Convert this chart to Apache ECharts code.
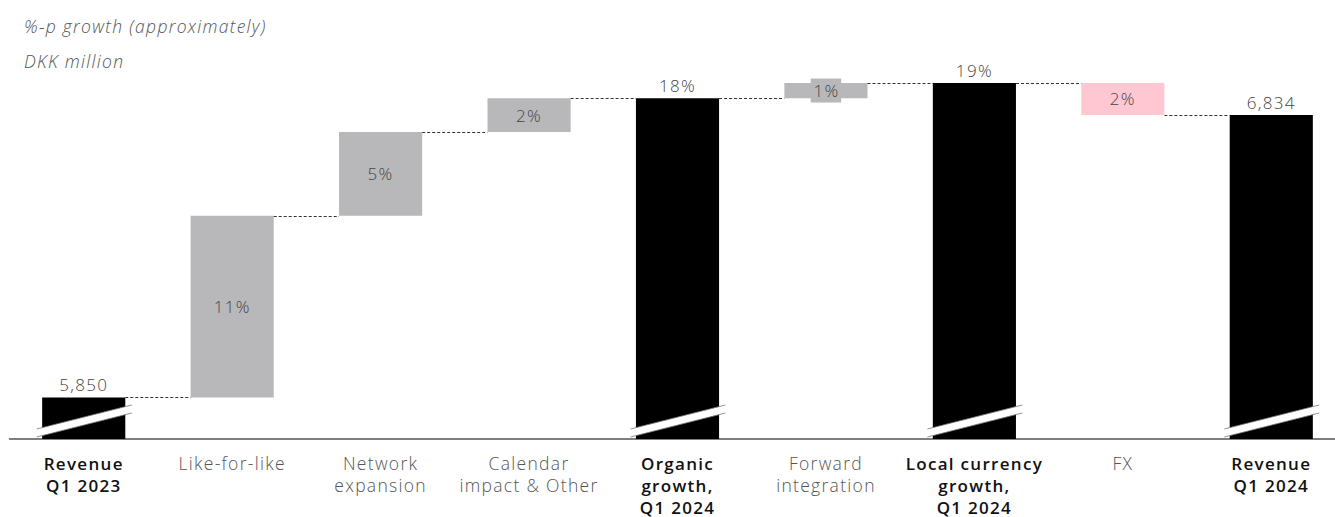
<!DOCTYPE html>
<html>
<head>
<meta charset="utf-8">
<script src="https://cdn.jsdelivr.net/npm/echarts@6/dist/echarts.min.js"></script>
<style>
html,body{margin:0;padding:0;background:#fff;}
#chart{width:1335px;height:517px;}
#chart text{letter-spacing:1.3px;}
</style>
</head>
<body>
<div id="chart"></div>
<script>
// ---- data ----
const categories = ['Revenue\nQ1 2023', 'Like-for-like', 'Network\nexpansion', 'Calendar\nimpact & Other', 'Organic\ngrowth,\nQ1 2024', 'Forward\nintegration', 'Local currency\ngrowth,\nQ1 2024', 'FX', 'Revenue\nQ1 2024'];
const barKinds = ['total', 'delta', 'delta', 'delta', 'total', 'delta', 'total', 'delta', 'total'];
const startRevenue = 5850;          // DKK million
const changes = [null, 633, 292, 118, null, 53, null, -112, null]; // DKK million (approx.)
const barLabels = ['5,850', '11%', '5%', '2%', '18%', '1%', '19%', '2%', '6,834'];
const titleLines = ['%-p growth (approximately)', 'DKK million'];

// ---- derived ----
const levels = [];
let run = startRevenue;
barKinds.forEach((k, i) => {
  if (k === 'delta') run += changes[i];
  levels.push(run);
});
const totalData = barKinds.map((k, i) => k === 'total' ? levels[i] : '-');
const baseData = barKinds.map((k, i) => k === 'delta' ? (changes[i] >= 0 ? levels[i] - changes[i] : levels[i]) : '-');
const deltaData = barKinds.map((k, i) => {
  if (k !== 'delta') return '-';
  const v = changes[i];
  const item = { value: Math.abs(v), itemStyle: { color: v >= 0 ? '#b8b8ba' : '#ffc7d1' } };
  if (i === 5) {
    item.label = { backgroundColor: '#b8b8ba', padding: [4, 3, 3, 4] };
  }
  return item;
});
const connectorData = levels.slice(0, levels.length - 1).map((lv, i) => [i, lv]);
const breakData = barKinds.map((k, i) => k === 'total' ? [i] : null).filter(d => d);

const Y_MIN = 5705, Y_MAX = 7005;
const BAR_RATIO = 0.56;
const FONT = '"Open Sans", Lato, sans-serif';

const chart = echarts.init(document.getElementById('chart'), null, { renderer: 'svg' });
chart.setOption({
  animation: false,
  grid: { left: 9.5, width: 1336, top: 66, bottom: 78, outerBoundsMode: 'none', containLabel: false },
  graphic: [
    { type: 'text', left: 24, top: 17, style: { text: titleLines[0], fontFamily: FONT, fontStyle: 'italic', fontWeight: 300, fontSize: 17.5, fill: '#555' } },
    { type: 'text', left: 24, top: 52, style: { text: titleLines[1], fontFamily: FONT, fontStyle: 'italic', fontWeight: 300, fontSize: 17.5, fill: '#555' } }
  ],
  xAxis: {
    type: 'category',
    data: categories,
    axisLine: { lineStyle: { color: '#555', width: 1.5 } },
    axisTick: { show: false },
    axisLabel: {
      interval: 0,
      margin: 13,
      formatter: function (val, idx) {
        const tag = barKinds[idx] === 'total' ? 'b' : 'n';
        return val.split('\n').map(s => '{' + tag + '|' + s + '}').join('\n');
      },
      rich: {
        b: { fontFamily: FONT, fontSize: 17, fontWeight: 600, color: '#111', lineHeight: 22 },
        n: { fontFamily: FONT, fontSize: 17.5, fontWeight: 300, color: '#555', lineHeight: 22 }
      }
    }
  },
  yAxis: { type: 'value', min: Y_MIN, max: Y_MAX, show: false, splitLine: { show: false } },
  series: [
    {
      name: 'total', type: 'bar', data: totalData, barWidth: (BAR_RATIO * 100) + '%', barGap: '-100%',
      itemStyle: { color: '#000' },
      label: {
        show: true, position: 'top', distance: 4, fontFamily: FONT, fontWeight: 300, fontSize: 17, color: '#444',
        formatter: p => barLabels[p.dataIndex]
      }
    },
    {
      name: 'base', type: 'bar', stack: 'wf', data: baseData, barWidth: (BAR_RATIO * 100) + '%', barGap: '-100%',
      itemStyle: { color: 'rgba(0,0,0,0)' }, silent: true
    },
    {
      name: 'delta', type: 'bar', stack: 'wf', data: deltaData, barWidth: (BAR_RATIO * 100) + '%', barGap: '-100%',
      label: {
        show: true, position: 'inside', fontFamily: FONT, fontWeight: 300, fontSize: 17, color: '#444',
        formatter: p => barLabels[p.dataIndex]
      }
    },
    {
      name: 'connectors', type: 'custom', data: connectorData, z: 3, silent: true,
      renderItem: function (params, api) {
        const i = api.value(0), lv = api.value(1);
        const p0 = api.coord([i, lv]);
        const p1 = api.coord([i + 1, lv]);
        const half = api.size([1, 0])[0] * BAR_RATIO / 2;
        const y = Math.round(p0[1]) + 0.5;
        return {
          type: 'line',
          shape: { x1: p0[0] + half, y1: y, x2: p1[0] - half, y2: y },
          style: { stroke: '#333', lineWidth: 1, lineDash: [3, 2] }
        };
      }
    },
    {
      name: 'breaks', type: 'custom', data: breakData, z: 4, silent: true,
      encode: { x: 0 },
      renderItem: function (params, api) {
        const i = api.value(0);
        const p = api.coord([i, Y_MIN]);
        const x = p[0], y = p[1];
        const L = [x - 47, y - 2], R = [x + 48, y - 26];
        const T = 8;
        return {
          type: 'group',
          children: [
            { type: 'polygon', shape: { points: [L, R, [R[0], R[1] - T], [L[0], L[1] - T]] }, style: { fill: '#fff' } },
            { type: 'line', shape: { x1: L[0], y1: L[1], x2: R[0], y2: R[1] }, style: { stroke: '#777', lineWidth: 0.8 } },
            { type: 'line', shape: { x1: L[0], y1: L[1] - T, x2: R[0], y2: R[1] - T }, style: { stroke: '#777', lineWidth: 0.8 } }
          ]
        };
      }
    }
  ]
});
</script>
</body>
</html>
